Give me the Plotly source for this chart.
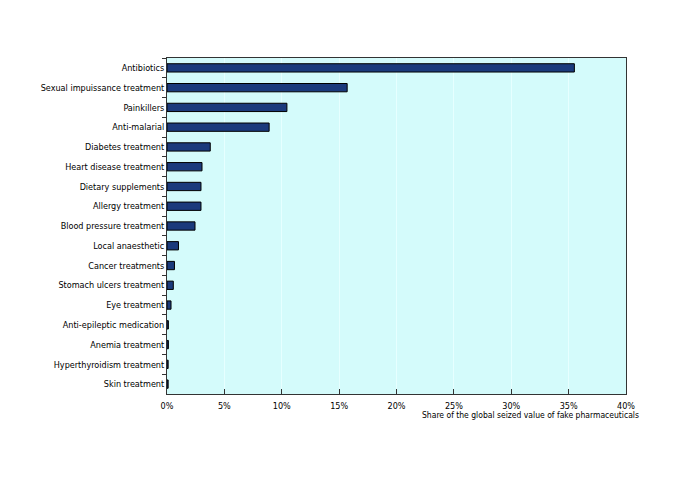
import plotly.graph_objects as go

categories = [
    "Antibiotics", "Sexual impuissance treatment", "Painkillers", "Anti-malarial",
    "Diabetes treatment", "Heart disease treatment", "Dietary supplements",
    "Allergy treatment", "Blood pressure treatment", "Local anaesthetic",
    "Cancer treatments", "Stomach ulcers treatment", "Eye treatment",
    "Anti-epileptic medication", "Anemia treatment", "Hyperthyroidism treatment",
    "Skin treatment",
]
values = [35.5, 15.7, 10.45, 8.9, 3.77, 3.05, 2.96, 2.96, 2.44, 1.0, 0.65, 0.55,
          0.35, 0.12, 0.12, 0.1, 0.1]
x_ticks = [0, 5, 10, 15, 20, 25, 30, 35, 40]
x_tick_labels = ["0%", "5%", "10%", "15%", "20%", "25%", "30%", "35%", "40%"]
x_title = "Share of the global seized value of fake pharmaceuticals"

FONT = "DejaVu Sans Condensed, Liberation Sans, Arial, sans-serif"

fig = go.Figure(go.Bar(
    x=values, y=categories, orientation="h",
    marker=dict(color="#1b3a7c", line=dict(color="#000000", width=1)),
    width=0.42,
))

fig.update_layout(
    width=690, height=493,
    margin=dict(l=159, r=72, t=50, b=107, autoexpand=False),
    paper_bgcolor="white",
    plot_bgcolor="#d4fbfb",
    showlegend=False,
    font=dict(family=FONT, size=9, color="#000000"),
    xaxis=dict(
        range=[0, 40], tickvals=x_ticks, ticktext=x_tick_labels,
        ticks="inside", ticklen=5, tickcolor="#333333",
        ticklabelstandoff=3,
        showgrid=True, gridcolor="#e6ffff", gridwidth=1,
        showline=True, linecolor="#333333", linewidth=1, mirror=True,
        zeroline=False, tickfont=dict(size=9, family=FONT), automargin=False,
    ),
    yaxis=dict(
        autorange="reversed", ticks="outside", tickson="boundaries",
        ticklen=4, tickcolor="#333333",
        showline=True, linecolor="#333333", linewidth=1, mirror=True,
        showgrid=False, tickfont=dict(size=9, family=FONT), automargin=False,
    ),
    annotations=[dict(
        text=x_title, xref="paper", yref="paper", x=1.033, y=-0.043,
        xanchor="right", yanchor="top", showarrow=False,
        font=dict(size=8.5, family=FONT),
    )],
)

fig.write_html("out.html")
